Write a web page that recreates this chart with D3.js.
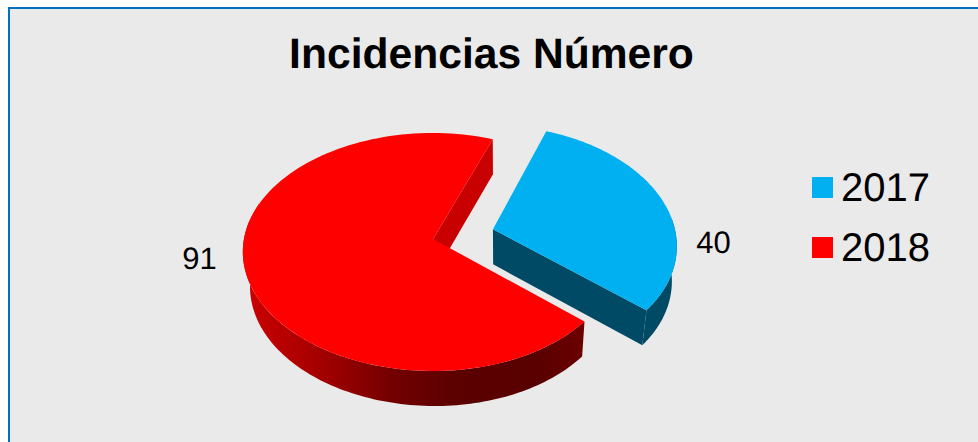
<!DOCTYPE html>
<html>
<head>
<meta charset="utf-8">
<title>Incidencias Numero</title>
<script src="https://d3js.org/d3.v7.min.js"></script>
<style>
html, body { margin: 0; padding: 0; background: #fff; }
svg { display: block; font-family: "Liberation Sans", Arial, sans-serif; text-rendering: geometricPrecision; }
</style>
</head>
<body>
<svg width="978" height="442"></svg>
<script>
var title = "Incidencias Número";
var years = ["2017", "2018"];
var values = [40, 91];
var topColors = ["#00b0f0", "#ff0000"];
var wallColors = ["#004a66", "url(#redWall)"];

var svg = d3.select("svg");

// frame
svg.append("rect").attr("x", 9).attr("y", 8).attr("width", 975).attr("height", 440)
	.attr("fill", "#eaeaea").attr("stroke", "#0070c0").attr("stroke-width", 2);

svg.append("text").attr("x", 491.5).attr("y", 68).attr("text-anchor", "middle")
	.attr("font-size", 42.6).attr("font-weight", "bold").attr("fill", "#000").text(title);

var defs = svg.append("defs");
var grad = defs.append("linearGradient").attr("id", "redWall")
	.attr("gradientUnits", "userSpaceOnUse")
	.attr("x1", 245).attr("x2", 585).attr("y1", 0).attr("y2", 0);
[[0, "#cc0000"], [0.2, "#a80000"], [0.45, "#700000"], [0.62, "#5c0000"], [0.85, "#580000"], [1, "#6c0000"]]
	.forEach(function(s) {
		grad.append("stop").attr("offset", s[0]).attr("stop-color", s[1]);
	});

// the pie lies flat, seen in perspective
var sx = 187, sy = 117.6, k = 0.109, skew = 0.011;
var x0 = 433, y0 = 239;
var depth = 35, vanishX = 500, shrink = 0.972;

function project(u, v) {
	var w = 1 + k * v;
	return [x0 + sx * u * (1 - skew * u) / w, y0 - sy * v / w];
}
function lower(p) {
	return [vanishX + (p[0] - vanishX) * shrink, p[1] + depth];
}

var startDeg = 20.7;
var pie = d3.pie().sort(null).startAngle(startDeg * Math.PI / 180)
	.endAngle((startDeg + 360) * Math.PI / 180);
var arcs = pie(values);
var explode = [0.335, 0];

function rim(d, i, from, to) {
	var mid = (d.startAngle + d.endAngle) / 2;
	var ox = explode[i] * Math.sin(mid), oy = explode[i] * Math.cos(mid);
	return d3.range(0, 121).map(function(n) {
		var a = from + (to - from) * n / 120;
		return project(ox + Math.sin(a), oy + Math.cos(a));
	});
}
function apex(d, i) {
	var mid = (d.startAngle + d.endAngle) / 2;
	return project(explode[i] * Math.sin(mid), explode[i] * Math.cos(mid));
}
function poly(pts) {
	return "M" + pts.map(function(p) { return p[0] + "," + p[1]; }).join("L") + "Z";
}

// red first, then blue
[1, 0].forEach(function(i) {
	var d = arcs[i];
	var top = rim(d, i, d.startAngle, d.endAngle);
	var c = apex(d, i);
	var g = svg.append("g");

	// outer wall, only the part that faces the viewer
	var wallFrom = Math.max(d.startAngle, Math.PI / 2 - 0.1);
	var wallTo = Math.min(d.endAngle, Math.PI * 1.6);
	var front = rim(d, i, wallFrom, wallTo);
	g.append("path").attr("d", poly(front.concat(front.map(lower).reverse())))
		.attr("fill", wallColors[i]);

	// cut face: inner side of the gap for red, the side facing the red slice for blue
	var p = top[top.length - 1];
	g.append("path").attr("d", poly([c, p, lower(p), lower(c)]))
		.attr("fill", i == 1 ? "#c80000" : wallColors[0]);

	g.append("path").attr("d", poly([c].concat(top))).attr("fill", topColors[i]);
});

// value labels
var labelX = [713.5, 199.5];
var labelY = [253, 269];
values.forEach(function(v, i) {
	svg.append("text").attr("x", labelX[i]).attr("y", labelY[i]).attr("text-anchor", "middle")
		.attr("font-size", 31).attr("fill", "#000").text(v);
});

// legend
var legendY = d3.scalePoint().domain(years).range([187, 247]);
years.forEach(function(y, i) {
	svg.append("rect").attr("x", 812).attr("y", legendY(y) - 10).attr("width", 21).attr("height", 21)
		.attr("fill", topColors[i]);
	svg.append("text").attr("x", 841).attr("y", legendY(y) + 13.5)
		.attr("font-size", 40).attr("fill", "#000").text(y);
});
</script>
</body>
</html>
